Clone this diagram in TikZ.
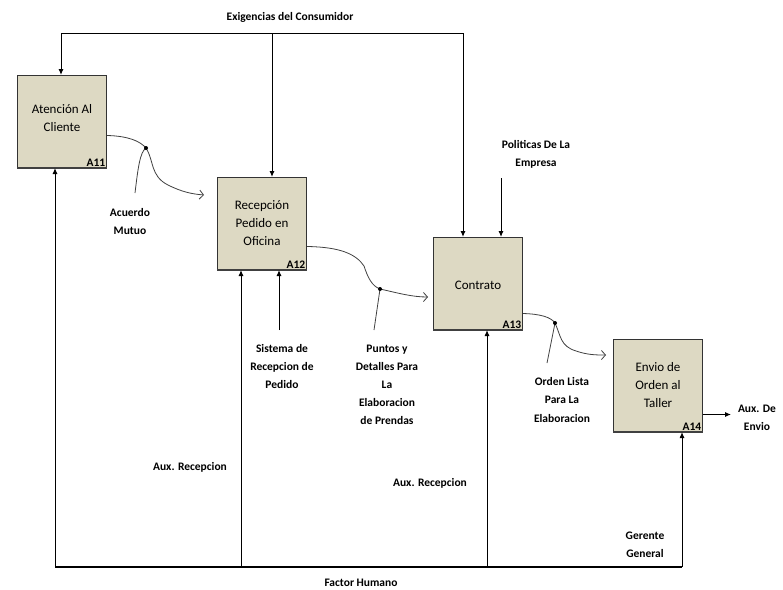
\documentclass[tikz,border=0pt]{standalone}
\usepackage{fontspec}
\setmainfont{Carlito}
\usetikzlibrary{arrows.meta}
\definecolor{boxfill}{RGB}{221,217,195}

\begin{document}
\begin{tikzpicture} [
    x=1pt,y=-1pt,
    act/.style={rectangle,draw=black!80,line width=1pt,fill=boxfill,
      minimum width=89pt,minimum height=92pt,inner sep=0pt,anchor=north west,
      align=center,font=\fontsize{13}{18}\selectfont},
    num/.style={anchor=south east,inner sep=1.5pt,font=\bfseries\fontsize{11.5}{12}\selectfont},
    lbl/.style={align=center,font=\bfseries\fontsize{11.5}{18}\selectfont},
    flow/.style={-{Latex[length=6pt,width=5pt]},line width=1pt},
    curv/.style={-{Straight Barb[length=4pt,width=9pt]},line width=0.8pt,black!75},
    ]
    \useasboundingbox (0,0) rectangle (783,589);
    % Activities
    \node[act] (a11) at (17,75) {Atención Al\\Cliente\\[-10pt]};
    \node[act] (a12) at (217,177) {Recepción\\Pedido en\\Oficina};
    \node[act] (a13) at (433,237) {{}\\[-6pt]Contrato};
    \node[act] (a14) at (613,339) {Envio de\\Orden al\\Taller};
    \foreach \a/\t in {a11/A11,a12/A12,a13/A13,a14/A14} {
      \draw[line width=2pt,black!75] (\a.south west) -- (\a.south east);
      \node[num] at (\a.south east) {\t};
    }
    % Controls
    \node[lbl] (exi) at (290,17) {Exigencias del Consumidor};
    \coordinate (ex1) at (61,33);
    \coordinate (ex2) at (272,33);
    \coordinate (ex3) at (463,33);
    \draw[line width=1pt] (ex1) -- (ex3);
    \draw[flow] (ex1) -- (ex1 |- a11.north);
    \draw[flow] (ex2) -- (ex2 |- a12.north);
    \draw[flow] (ex3) -- (ex3 |- a13.north);
    \node[lbl] (pol) at (536,154) {Politicas De La\\Empresa};
    \coordinate (po) at (501,178);
    \draw[flow] (po) -- (po |- a13.north);
    % Mechanisms
    \coordinate (fh1) at (55,567);
    \coordinate (fh2) at (241,567);
    \coordinate (fh3) at (487,567);
    \coordinate (fh4) at (682,567);
    \draw[line width=2pt] (fh1) -- (fh4);
    \foreach \c/\a in {fh1/a11,fh2/a12,fh3/a13,fh4/a14}
      \draw[flow] (\c) -- (\c |- \a.south);
    \coordinate (sr) at (279,330);
    \draw[flow] (sr) -- (sr |- a12.south);
    \node[lbl] (sis) at (282,367) {Sistema de\\Recepcion de\\Pedido};
    \node[lbl] (fac) at (361,583) {Factor Humano};
    \node[lbl] (aux1) at (190,467) {Aux. Recepcion};
    \node[lbl] (aux2) at (430,483) {Aux. Recepcion};
    \node[lbl] (ger) at (645,545) {Gerente\\General};
    % Outputs
    \coordinate (j1) at (146,148);
    \draw[curv] ([yshift=-14pt]a11.east) .. controls (128,136) and (140,141) .. (j1)
      .. controls (154,160) and (150,176) .. (168,185)
      .. controls (182,192) and (192,194) .. (204,195);
    \draw[line width=0.8pt,black!75] (135,193) .. controls (138,168) and (140,152) .. (j1);
    \fill (j1) circle (2pt);
    \node[lbl] (acu) at (130,222) {Acuerdo\\Mutuo};

    \coordinate (j2) at (380,289);
    \draw[curv] ([yshift=-23pt]a12.east) .. controls (340,247) and (356,254) .. (364,266)
      .. controls (368,278) and (372,286) .. (j2)
      .. controls (398,293) and (412,297) .. (428,297);
    \draw[line width=0.8pt,black!75] (374,330) -- (j2);
    \fill (j2) circle (2pt);
    \node[lbl] (pun) at (387,385) {Puntos y\\Detalles Para\\La\\Elaboracion\\de Prendas};

    \coordinate (j3) at (555,323);
    \draw[curv] ([yshift=-30pt]a13.east) .. controls (540,314) and (551,317) .. (j3)
      .. controls (561,336) and (560,346) .. (576,351)
      .. controls (588,355) and (596,355) .. (606,355);
    \draw[line width=0.8pt,black!75] (547,363) -- (j3);
    \fill (j3) circle (2pt);
    \node[lbl] (ord) at (562,400) {Orden Lista\\Para La\\Elaboracion};

    \draw[flow] ([yshift=-29pt]a14.east) -- ++(28,0);
    \node[lbl] (env) at (757,418) {Aux. De\\Envio};
  \end{tikzpicture}
\end{document}
